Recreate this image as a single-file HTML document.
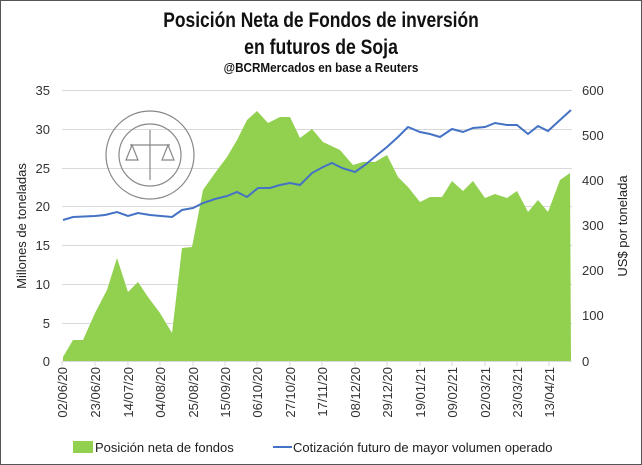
<!DOCTYPE html>
<html><head><meta charset="utf-8"><style>
html,body{margin:0;padding:0;background:#fff}
svg{display:block}
</style></head><body>
<svg width="642" height="465" viewBox="0 0 642 465" xmlns="http://www.w3.org/2000/svg" font-family="Liberation Sans, sans-serif">
<rect x="0.5" y="0.5" width="641" height="464" fill="#fff" stroke="#555" stroke-width="1"/>
<g font-weight="bold" text-anchor="middle" fill="#111">
<text transform="translate(321,27) scale(0.83,1)" font-size="21">Posición Neta de Fondos de inversión</text>
<text transform="translate(321,54) scale(0.84,1)" font-size="21">en futuros de Soja</text>
<text transform="translate(321,72) scale(0.9,1)" font-size="13">@BCRMercados  en base a Reuters</text>
</g>
<g stroke="#d9d9d9" stroke-width="1">
<line x1="62" x2="572" y1="90.5" y2="90.5"/>
<line x1="62" x2="572" y1="129.5" y2="129.5"/>
<line x1="62" x2="572" y1="168.5" y2="168.5"/>
<line x1="62" x2="572" y1="206.5" y2="206.5"/>
<line x1="62" x2="572" y1="245.5" y2="245.5"/>
<line x1="62" x2="572" y1="284.5" y2="284.5"/>
<line x1="62" x2="572" y1="323.5" y2="323.5"/>
</g>
<g fill="none" stroke="#888" stroke-width="1.2">
<circle cx="150" cy="155" r="44"/><circle cx="150" cy="155" r="31"/>
<line x1="130" y1="145" x2="170" y2="145"/><line x1="150" y1="130" x2="150" y2="180"/>
<path d="M132 145 l-6 15 h12 z M168 145 l-6 15 h12 z"/>
</g>
<polygon fill="#92d050" points="63,361 63,357 73,340 83,340 95,313 107,290 117,258 128,292 138,282 148,297 160,313 172,333 182,248 192,247 203,190 215,173 227,157 237,140 247,120 257,111 268,123 280,117 290,117 300,138 312,129 323,142 340,150 353,165 363,162 375,162 387,155 398,177 408,187 420,202 430,197 442,197 452,181 463,191 473,181 485,198 495,194 507,198 517,191 528,212 538,200 548,212 560,180 570,173 571,361"/>
<polyline fill="none" stroke="#4472c4" stroke-width="2" points="63,220 73,217 95,216 105,215 117,212 128,216 138,213 150,215 172,217 182,210 193,208 203,203 215,199 227,196 237,192 247,197 258,188 270,188 280,185 290,183 300,185 312,173 323,167 332,163 342,168 355,172 365,165 377,155 387,147 398,137 408,127 420,132 430,134 440,137 452,129 463,132 473,128 485,127 495,123 507,125 517,125 528,134 538,126 548,131 560,120 571,110"/>
<line x1="62" x2="572" y1="361.5" y2="361.5" stroke="#d9d9d9"/>
<g stroke="#d9d9d9"><line x1="62" x2="62" y1="361" y2="366"/><line x1="95" x2="95" y1="361" y2="366"/><line x1="128" x2="128" y1="361" y2="366"/><line x1="160" x2="160" y1="361" y2="366"/><line x1="193" x2="193" y1="361" y2="366"/><line x1="225" x2="225" y1="361" y2="366"/><line x1="257" x2="257" y1="361" y2="366"/><line x1="290" x2="290" y1="361" y2="366"/><line x1="322" x2="322" y1="361" y2="366"/><line x1="355" x2="355" y1="361" y2="366"/><line x1="387" x2="387" y1="361" y2="366"/><line x1="420" x2="420" y1="361" y2="366"/><line x1="452" x2="452" y1="361" y2="366"/><line x1="485" x2="485" y1="361" y2="366"/><line x1="517" x2="517" y1="361" y2="366"/><line x1="549" x2="549" y1="361" y2="366"/></g>
<g font-size="13" fill="#333" text-anchor="end">
<text x="50" y="95">35</text><text x="50" y="134">30</text><text x="50" y="173">25</text><text x="50" y="211">20</text><text x="50" y="250">15</text><text x="50" y="289">10</text><text x="50" y="328">5</text><text x="50" y="366">0</text>
</g>
<g font-size="13" fill="#333" text-anchor="start">
<text x="582" y="95">600</text><text x="582" y="140">500</text><text x="582" y="185">400</text><text x="582" y="230">300</text><text x="582" y="275">200</text><text x="582" y="320">100</text><text x="582" y="366">0</text>
</g>
<text transform="translate(26,226) rotate(-90)" font-size="13" fill="#222" text-anchor="middle">Millones de toneladas</text>
<text transform="translate(627,226) rotate(-90)" font-size="13" fill="#222" text-anchor="middle">US$ por tonelada</text>
<g font-size="13" fill="#333" text-anchor="end">
<text transform="translate(67,367) rotate(-90)">02/06/20</text>
<text transform="translate(100,367) rotate(-90)">23/06/20</text>
<text transform="translate(133,367) rotate(-90)">14/07/20</text>
<text transform="translate(165,367) rotate(-90)">04/08/20</text>
<text transform="translate(198,367) rotate(-90)">25/08/20</text>
<text transform="translate(230,367) rotate(-90)">15/09/20</text>
<text transform="translate(262,367) rotate(-90)">06/10/20</text>
<text transform="translate(295,367) rotate(-90)">27/10/20</text>
<text transform="translate(327,367) rotate(-90)">17/11/20</text>
<text transform="translate(360,367) rotate(-90)">08/12/20</text>
<text transform="translate(392,367) rotate(-90)">29/12/20</text>
<text transform="translate(425,367) rotate(-90)">19/01/21</text>
<text transform="translate(457,367) rotate(-90)">09/02/21</text>
<text transform="translate(490,367) rotate(-90)">02/03/21</text>
<text transform="translate(522,367) rotate(-90)">23/03/21</text>
<text transform="translate(554,367) rotate(-90)">13/04/21</text>
</g>
<rect x="73" y="441" width="20" height="12" fill="#92d050"/>
<text x="95" y="452" font-size="13" fill="#222">Posición neta de fondos</text>
<line x1="273" x2="292" y1="447" y2="447" stroke="#4472c4" stroke-width="2"/>
<text x="293" y="452" font-size="13" fill="#222">Cotización futuro de mayor volumen operado</text>
</svg>
</body></html>
